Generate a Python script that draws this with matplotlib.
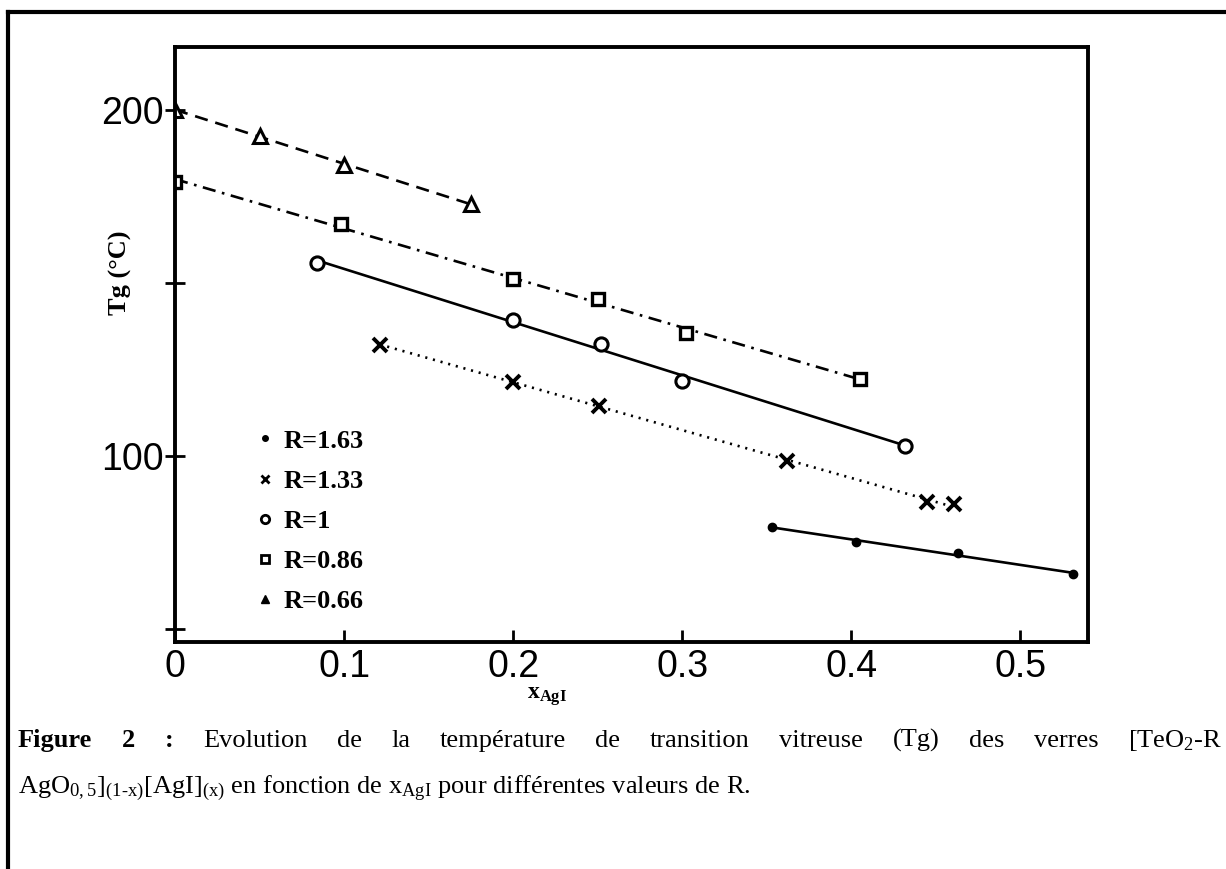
import numpy as np
import matplotlib
matplotlib.use("Agg")
import matplotlib.pyplot as plt
from matplotlib.lines import Line2D

plt.rcParams['mathtext.fontset'] = 'custom'
plt.rcParams['mathtext.rm'] = 'Liberation Serif'
plt.rcParams['mathtext.bf'] = 'Liberation Serif:bold'
plt.rcParams['mathtext.default'] = 'regular'

W, H = 1226, 869

# data (x_AgI, Tg in degC)
x_r066 = [0.0, 0.05, 0.10, 0.175]
tg_r066 = [200.0, 192.5, 184.2, 172.8]

x_r086 = [0.0, 0.098, 0.20, 0.25, 0.302, 0.405]
tg_r086 = [179.2, 167.1, 151.2, 145.4, 135.5, 122.3]

x_r1 = [0.084, 0.20, 0.252, 0.30, 0.432]
tg_r1 = [155.8, 139.3, 132.4, 121.7, 102.9]

x_r133 = [0.121, 0.20, 0.251, 0.362, 0.445, 0.461]
tg_r133 = [132.1, 121.4, 114.5, 98.6, 86.6, 86.0]

x_r163 = [0.353, 0.403, 0.463, 0.531]
tg_r163 = [79.5, 75.0, 72.0, 65.9]

legend_labels = ['R=1.63', 'R=1.33', 'R=1', 'R=0.86', 'R=0.66']
xticks = [0, 0.1, 0.2, 0.3, 0.4, 0.5]
xtick_labels = ['0', '0.1', '0.2', '0.3', '0.4', '0.5']
yticks = [50, 100, 150, 200]
ytick_labels = ['', '100', '', '200']

tick_font = ['Liberation Sans Narrow', 'Liberation Sans', 'DejaVu Sans']
serif = ['Liberation Serif', 'DejaVu Serif']

fig = plt.figure(figsize=(W / 100, H / 100), dpi=100)
ax = fig.add_axes([175 / W, 1 - 642 / H, (1088 - 175) / W, (642 - 47) / H])
ax.set_xlim(0, 0.54)
ax.set_ylim(46.2, 218.2)

for s in ax.spines.values():
    s.set_linewidth(2.8)


def fit_line(x, y, **kw):
    p = np.polyfit(x, y, 1)
    xs = np.array([min(x), max(x)])
    ax.plot(xs, np.polyval(p, xs), color='black', lw=1.9, **kw)


fit_line(x_r066, tg_r066, ls=(0, (5, 3)))
fit_line(x_r086, tg_r086, ls=(0, (5, 2.5, 1, 2.5)))
fit_line(x_r1, tg_r1, ls='-')
fit_line(x_r133, tg_r133, ls=(0, (0.8, 2.2)))
fit_line(x_r163, tg_r163, ls='-')

ax.plot(x_r066, tg_r066, '^', ms=10.5, mfc='white', mec='black', mew=2.2, ls='none')
ax.plot(x_r086, tg_r086, 's', ms=8.5, mfc='white', mec='black', mew=2.4, ls='none')
ax.plot(x_r1, tg_r1, 'o', ms=9.5, mfc='white', mec='black', mew=2.2, ls='none')
ax.plot(x_r133, tg_r133, 'x', ms=10, color='black', mew=2.8, ls='none')
ax.plot(x_r163, tg_r163, 'o', ms=6, color='black', ls='none')

# legend
handles = [
    Line2D([], [], marker='o', ms=4, color='black', ls='none'),
    Line2D([], [], marker='x', ms=6, color='black', mew=2, ls='none'),
    Line2D([], [], marker='o', ms=6, mfc='white', mec='black', mew=2, ls='none'),
    Line2D([], [], marker='s', ms=6, mfc='white', mec='black', mew=2, ls='none'),
    Line2D([], [], marker='^', ms=6, color='black', ls='none'),
]
leg = ax.legend(handles, legend_labels, loc='upper left',
                bbox_to_anchor=(244 / W, 1 - 416 / H), bbox_transform=fig.transFigure,
                frameon=False, borderpad=0, handlelength=0.6, handletextpad=0.4,
                labelspacing=0.63, prop={'family': serif, 'weight': 'bold', 'size': 19})

ax.set_xticks(xticks)
ax.set_xticklabels(xtick_labels, family=tick_font, size=27)
ax.set_yticks(yticks)
ax.set_yticklabels(ytick_labels, family=tick_font, size=27)
ax.tick_params(axis='x', direction='in', length=9, width=2, pad=5)
ax.tick_params(axis='y', direction='inout', length=14, width=2, pad=1)

ax.set_xlabel(r'x$_{\mathbf{AgI}}$', family=serif, weight='bold', size=17)
ax.xaxis.set_label_coords(0.407, -0.072)
fig.text(120 / W, 1 - 273 / H, 'Tg (°C)', rotation=90, family=serif,
         weight='bold', size=19, ha='center', va='center')

# outer frame (top and left edges of the page box)
fig.add_artist(Line2D([8 / W, 1], [1 - 12 / H, 1 - 12 / H], color='black', lw=3,
                      transform=fig.transFigure))
fig.add_artist(Line2D([8 / W, 8 / W], [1 - 12 / H, 0], color='black', lw=3,
                      transform=fig.transFigure))

# caption, first line justified
words1 = [('Figure', 'bold'), ('2', 'bold'), (':', 'bold'), ('Evolution', 'normal'),
          ('de', 'normal'), ('la', 'normal'), ('température', 'normal'), ('de', 'normal'),
          ('transition', 'normal'), ('vitreuse', 'normal'), ('(Tg)', 'normal'),
          ('des', 'normal'), ('verres', 'normal'), ('[TeO$_2$-R', 'normal')]
cap_size = 19
y1 = 1 - 747 / H
y2 = 1 - 793 / H
texts = [fig.text(0, y1, w, family=serif, weight=wt, size=cap_size, va='baseline')
         for w, wt in words1]
fig.canvas.draw()
r = fig.canvas.get_renderer()
widths = [t.get_window_extent(r).width for t in texts]
x0, x1 = 18, 1222
gap = (x1 - x0 - sum(widths)) / (len(texts) - 1)
xpos = x0
for t, wd in zip(texts, widths):
    t.set_x(xpos / W)
    xpos += wd + gap

fig.text(18 / W, y2, r'AgO$_{0,5}$]$_{(1\text{-}x)}$[AgI]$_{(x)}$ en fonction de x$_{AgI}$ pour différentes valeurs de R.',
         family=serif, size=cap_size, va='baseline')

fig.savefig('out.png', dpi=100)
